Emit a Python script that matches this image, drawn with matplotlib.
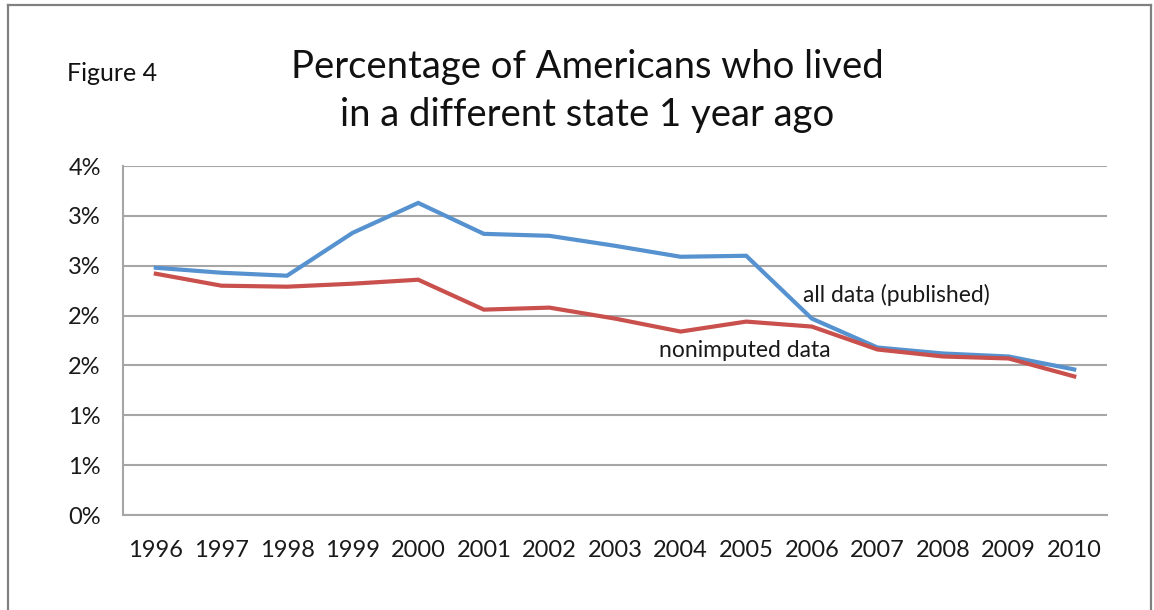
import matplotlib
matplotlib.use("Agg")
import matplotlib.pyplot as plt
from matplotlib.lines import Line2D

plt.rcParams['font.family'] = ['Lato', 'DejaVu Sans']

years = ['1996', '1997', '1998', '1999', '2000', '2001', '2002', '2003',
         '2004', '2005', '2006', '2007', '2008', '2009', '2010']
all_data = [2.48, 2.43, 2.40, 2.83, 3.13, 2.82, 2.80, 2.70,
            2.59, 2.60, 1.97, 1.68, 1.62, 1.59, 1.46]
nonimputed = [2.42, 2.30, 2.29, 2.32, 2.36, 2.06, 2.08, 1.97,
              1.84, 1.94, 1.89, 1.66, 1.59, 1.57, 1.39]
y_ticks = [0, 0.5, 1.0, 1.5, 2.0, 2.5, 3.0, 3.5]
y_labels = ['0%', '1%', '1%', '2%', '2%', '3%', '3%', '4%']

blue = '#5592CF'
red = '#C9504C'
grid = '#A6A6A6'
txt = '#1a1a1a'

fig = plt.figure(figsize=(11.54, 6.10), dpi=100)
ax = fig.add_axes([0.1066, 0.1557, 0.8527, 0.5721])

x = range(len(years))
ax.plot(x, all_data, color=blue, lw=3.0, solid_joinstyle='miter', zorder=3)
ax.plot(x, nonimputed, color=red, lw=3.0, solid_joinstyle='miter', zorder=3)

ax.set_xlim(-0.5, len(years) - 0.5)
ax.set_ylim(0, 3.5)
ax.set_xticks(list(x))
ax.set_xticklabels(years, fontsize=17, color=txt)
ax.set_yticks(y_ticks)
ax.set_yticklabels(y_labels, fontsize=17, color=txt)
ax.tick_params(axis='both', length=0)
ax.tick_params(axis='y', pad=16)
ax.tick_params(axis='x', pad=18)

ax.grid(axis='y', color=grid, lw=1.5)
ax.set_axisbelow(True)
for s in ['top', 'right']:
    ax.spines[s].set_visible(False)
for s in ['left', 'bottom']:
    ax.spines[s].set_color(grid)
    ax.spines[s].set_linewidth(1.5)

ax.text(9.87, 2.21, 'all data (published)', fontsize=16.5, color=txt,
        va='center', ha='left')
ax.text(7.67, 1.655, 'nonimputed data', fontsize=16.5, color=txt,
        va='center', ha='left')

fig.text(0.509, 0.851, 'Percentage of Americans who lived\nin a different state 1 year ago',
         fontsize=27.5, ha='center', va='center', linespacing=1.40, color='#111111')
fig.text(0.058, 0.88, 'Figure 4', fontsize=18, ha='left', va='center', color='#111111')

# outer frame
fx0, fx1 = 7.5 / 1154, 1150.5 / 1154
fy1 = 1 - 4.5 / 610
frame_kw = dict(color='#808080', lw=1.6, transform=fig.transFigure)
fig.add_artist(Line2D([fx0, fx0], [0, fy1], **frame_kw))
fig.add_artist(Line2D([fx0, fx1], [fy1, fy1], **frame_kw))
fig.add_artist(Line2D([fx1, fx1], [0, fy1], **frame_kw))

plt.savefig('out.png', dpi=100)
